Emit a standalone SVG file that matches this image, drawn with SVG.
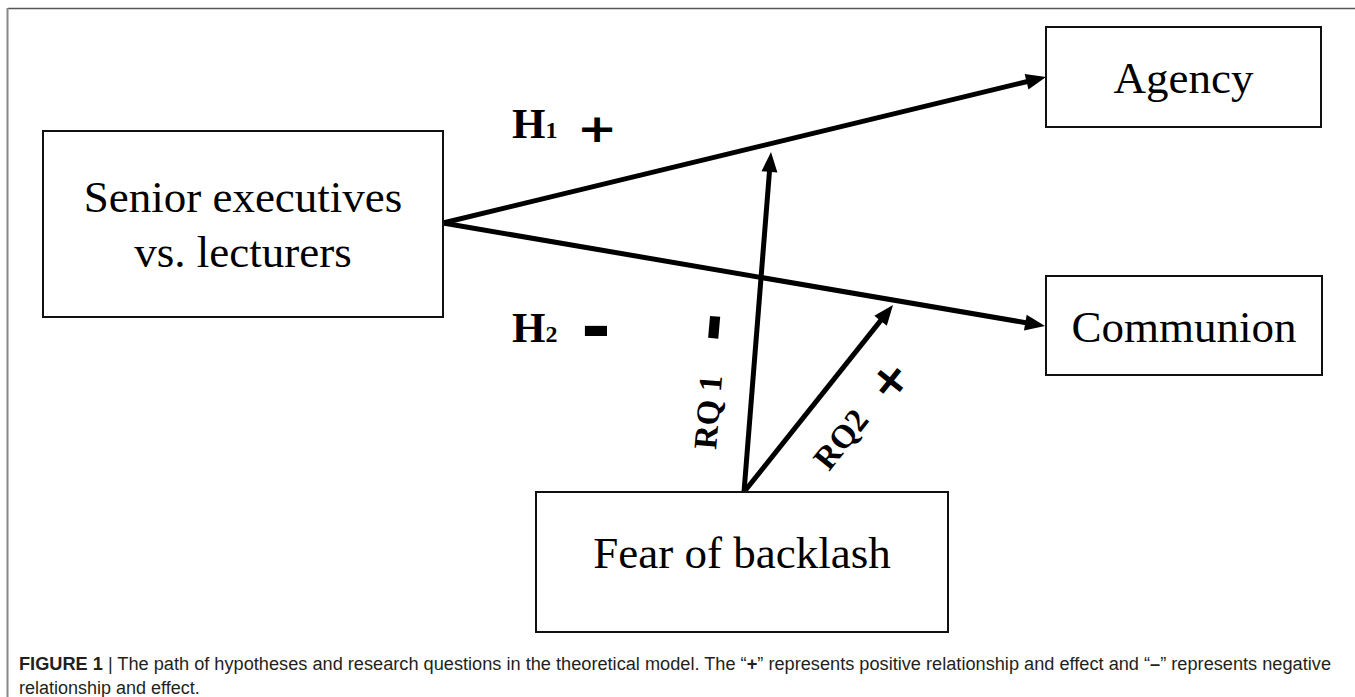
<svg xmlns="http://www.w3.org/2000/svg" width="1355" height="697" viewBox="0 0 1355 697">
<style>
.box{fill:#fff;stroke:#111;stroke-width:2}
.lbl{font-family:"Liberation Serif","Times New Roman",serif;font-size:45px;fill:#000;text-anchor:middle}
.conn{stroke:#000;stroke-width:5;fill:none;marker-end:url(#ah)}
.hb{font-family:"Liberation Serif","Times New Roman",serif;font-weight:bold;fill:#000}
.sym{font-family:"DejaVu Sans",sans-serif;font-weight:bold;fill:#000;text-anchor:middle}
.cap{font-family:"Liberation Sans Narrow","Liberation Sans",Arial,sans-serif;font-size:18px;fill:#231f20}
</style>
<defs>
<marker id="ah" markerUnits="userSpaceOnUse" markerWidth="20" markerHeight="16" refX="2" refY="8" orient="auto" overflow="visible">
<path d="M0,0 L20,8 L0,16 Z" fill="#000"/>
</marker>
</defs>
<g id="frame">
<line x1="8" y1="8.5" x2="1355" y2="8.5" stroke="#555" stroke-width="1.5"/>
<line x1="7.5" y1="8" x2="7.5" y2="697" stroke="#888" stroke-width="2"/>
</g>
<g id="connectors">
<line class="conn" x1="443" y1="223" x2="1028.5" y2="81.2"/>
<line class="conn" x1="443" y1="223" x2="1027.3" y2="323"/>
<line class="conn" x1="744" y1="492" x2="769.6" y2="169.9"/>
<line class="conn" x1="744" y1="492" x2="881.8" y2="319.1"/>
</g>
<g id="agency">
<rect class="box" x="1046" y="27" width="275" height="100"/>
<text class="lbl" x="1183.5" y="93">Agency</text>
</g>
<g id="senior">
<rect class="box" x="43" y="131" width="400" height="186"/>
<text class="lbl" x="243" y="212">Senior executives</text>
<text class="lbl" x="243" y="267">vs. lecturers</text>
</g>
<g id="communion">
<rect class="box" x="1046" y="276" width="276" height="99"/>
<text class="lbl" x="1184" y="342">Communion</text>
</g>
<g id="fear">
<rect class="box" x="536" y="492" width="412" height="140"/>
<text class="lbl" x="742" y="568">Fear of backlash</text>
</g>
<g id="labels">
<text class="hb" x="512" y="138"><tspan font-size="43">H</tspan><tspan font-size="24">1</tspan></text>
<text class="hb" x="512" y="342"><tspan font-size="43">H</tspan><tspan font-size="24">2</tspan></text>
<text class="sym" font-size="48" transform="translate(597,129) scale(1,0.8)" x="0" y="16">+</text>
<text class="sym" font-size="72" x="596" y="351">-</text>
<text class="sym" font-size="72" transform="translate(712,327) rotate(-85)" x="0" y="23">-</text>
<text class="sym" font-size="46" transform="translate(889,380) rotate(-51.5)" x="0" y="16">+</text>
<text class="hb" font-size="33" transform="translate(716,450) rotate(-85.2)">RQ 1</text>
<text class="hb" font-size="33" transform="translate(829,472) rotate(-51.5)">RQ2</text>
</g>
<g id="caption">
<text class="cap" x="19" y="670" textLength="1312" lengthAdjust="spacingAndGlyphs"><tspan font-weight="bold">FIGURE 1</tspan> | The path of hypotheses and research questions in the theoretical model. The “<tspan font-weight="bold">+</tspan>” represents positive relationship and effect and “<tspan font-weight="bold">–</tspan>” represents negative</text>
<text class="cap" x="19" y="694">relationship and effect.</text>
</g>
</svg>
